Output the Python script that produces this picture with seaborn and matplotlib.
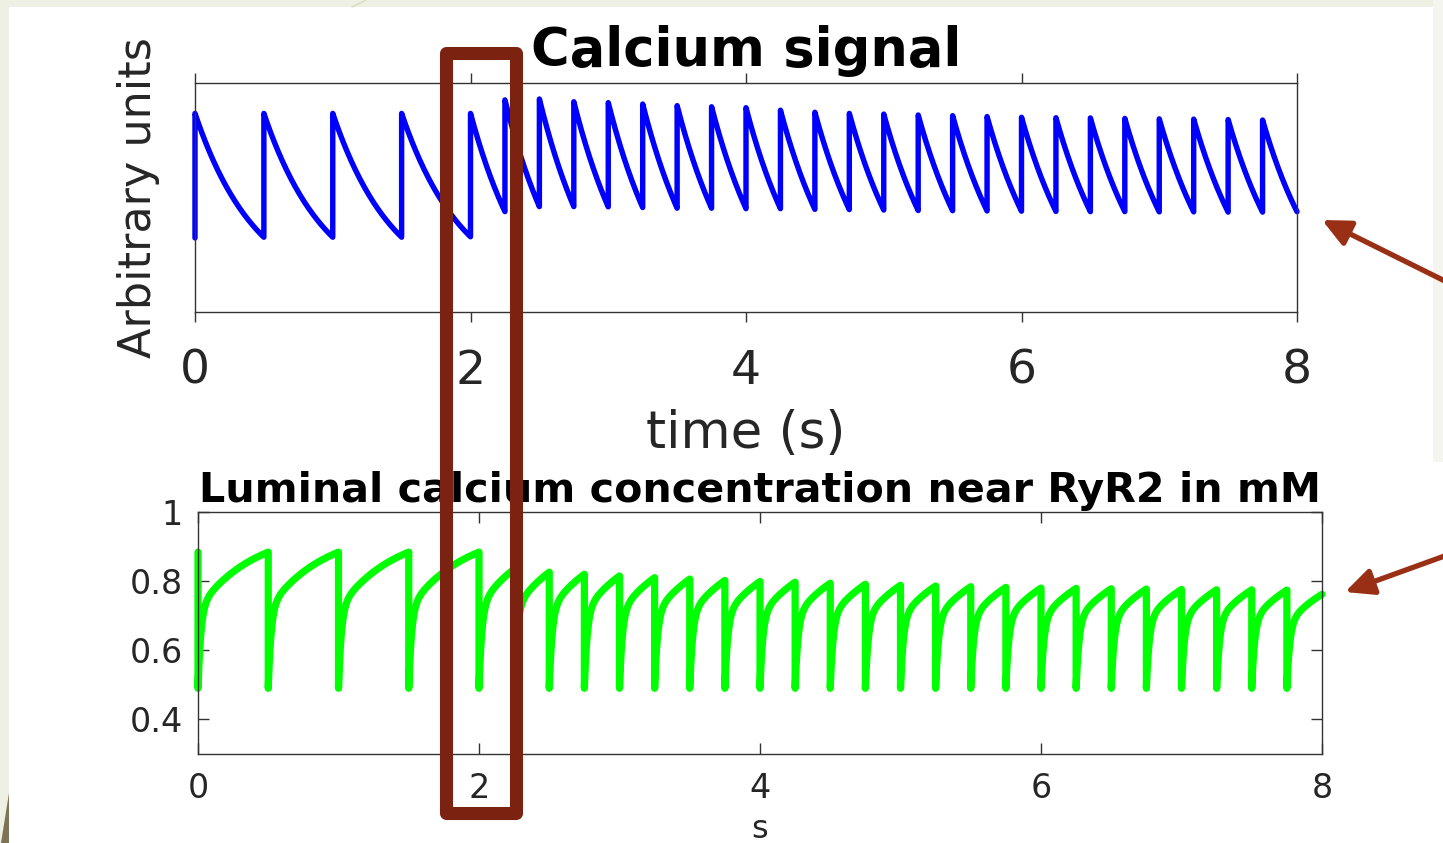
import numpy as np
import pandas as pd
import matplotlib
matplotlib.use("Agg")
import matplotlib.pyplot as plt
import seaborn as sns
from matplotlib.patches import Rectangle, FancyArrowPatch, Polygon, ArrowStyle
from matplotlib.lines import Line2D

# ---------------------------------------------------------------- data
# stimulation times (s): 2 Hz pacing, then 4 Hz from 2.25 s on
beat_times = [0.0, 0.5, 1.0, 1.5, 2.0, 2.25, 2.5, 2.75, 3.0, 3.25, 3.5, 3.75,
              4.0, 4.25, 4.5, 4.75, 5.0, 5.25, 5.5, 5.75, 6.0, 6.25, 6.5,
              6.75, 7.0, 7.25, 7.5, 7.75]
t_end = 8.0

# cytosolic calcium (arbitrary units): level before the first beat,
# peak of each transient and the level reached at the end of each interval
ca_start = 0.322
ca_peak = [0.867, 0.867, 0.867, 0.867, 0.867, 0.926, 0.930, 0.918, 0.914,
           0.908, 0.901, 0.896, 0.892, 0.881, 0.872, 0.867, 0.864, 0.860,
           0.857, 0.853, 0.850, 0.848, 0.847, 0.845, 0.843, 0.842, 0.840,
           0.838]
ca_trough = [0.325, 0.325, 0.325, 0.327, 0.437, 0.459, 0.459, 0.458, 0.455,
             0.452, 0.452, 0.450, 0.450, 0.447, 0.446, 0.444, 0.442, 0.441,
             0.440, 0.439, 0.438, 0.437, 0.437, 0.436, 0.436, 0.435, 0.435,
             0.437]
ca_tau = 0.45  # decay time constant (s)

# luminal calcium near RyR2 (mM): level just before each release,
# depleted level after release, and level at the end of the record
lum_before = [0.884, 0.884, 0.884, 0.884, 0.884, 0.835, 0.826, 0.820, 0.815,
              0.810, 0.806, 0.802, 0.799, 0.797, 0.794, 0.791, 0.788, 0.786,
              0.784, 0.782, 0.780, 0.779, 0.778, 0.777, 0.776, 0.775, 0.775,
              0.774]
lum_min = 0.49
lum_final = 0.762
lum_fast_frac, lum_tau_fast, lum_tau_slow = 0.5, 0.02, 0.4

top_xticks = [0, 2, 4, 6, 8]
bot_xticks = [0, 2, 4, 6, 8]
bot_yticks = [0.4, 0.6, 0.8, 1.0]
bot_yticklabels = ["0.4", "0.6", "0.8", "1"]


def calcium_trace(times, peaks, troughs, start, stop, tau):
    bounds = list(times[1:]) + [stop]
    tt, vv = [], []
    prev = start
    for t0, t1, pk, tr in zip(times, bounds, peaks, troughs):
        span = t1 - t0
        dt = np.linspace(0.0, span, 80)
        shape = (np.exp(-dt / tau) - np.exp(-span / tau)) / (1 - np.exp(-span / tau))
        tt += [t0] + list(t0 + dt)
        vv += [prev] + list(tr + (pk - tr) * shape)
        prev = tr
    return pd.DataFrame({"time": tt, "signal": vv})


def luminal_trace(times, before, vmin, final, stop, a, tf, ts):
    bounds = list(times[1:]) + [stop]
    targets = list(before[1:]) + [final]

    def recovery(dt):
        return 1 - a * np.exp(-dt / tf) - (1 - a) * np.exp(-dt / ts)

    tt, vv = [], []
    for t0, t1, lvl, tgt in zip(times, bounds, before, targets):
        span = t1 - t0
        dt = span * np.linspace(0.0, 1.0, 160) ** 2
        tt += [t0] + list(t0 + dt)
        vv += [lvl] + list(vmin + (tgt - vmin) * recovery(dt) / recovery(span))
    return pd.DataFrame({"time": tt, "conc": vv})


ca_df = calcium_trace(beat_times, ca_peak, ca_trough, ca_start, t_end, ca_tau)
lum_df = luminal_trace(beat_times, lum_before, lum_min, lum_final, t_end,
                       lum_fast_frac, lum_tau_fast, lum_tau_slow)

# ---------------------------------------------------------------- figure
sns.set_style("ticks")
plt.rcParams["font.family"] = ["DejaVu Sans"]

W, H = 1443, 843
fig = plt.figure(figsize=(W / 100, H / 100), dpi=100)
fig.patch.set_facecolor("#EDF0E2")


def fx(x):
    return x / W


def fy(y):
    return 1 - y / H


# slide background: white panel with a pale strip on the left/top
fig.add_artist(Rectangle((fx(9), fy(462)), fx(1433) - fx(9), fy(7) - fy(462),
                         transform=fig.transFigure, fc="white", ec="none", zorder=-10))
fig.add_artist(Rectangle((fx(9), fy(843)), fx(1443) - fx(9), fy(462) - fy(843),
                         transform=fig.transFigure, fc="white", ec="none", zorder=-10))
fig.add_artist(Rectangle((fx(1433), fy(462)), fx(1443) - fx(1433), fy(0) - fy(462),
                         transform=fig.transFigure, fc="#F4F5EE", ec="none", zorder=-10))
fig.add_artist(Polygon([(fx(8.6), fy(793)), (fx(8.6), fy(843)), (fx(0.5), fy(843))],
                       closed=True, transform=fig.transFigure, fc="#7E7455",
                       ec="none", zorder=-9))
fig.add_artist(Line2D([fx(352), fx(366)], [fy(7), fy(0)], transform=fig.transFigure,
                      color="#D6DAC6", lw=1, zorder=-9))

spine_color = "#333333"
tick_color = "#262626"

# ---------------------------------------------------------------- top panel
ax1 = fig.add_axes([fx(195), fy(311.5), fx(1297) - fx(195), fy(83) - fy(311.5)])
sns.lineplot(data=ca_df, x="time", y="signal", estimator=None, sort=False,
             color="#0000FF", linewidth=3.9, ax=ax1, clip_on=False)
ax1.set_xlim(0, 8)
ax1.set_ylim(0, 1)
ax1.set_xticks(top_xticks)
ax1.set_xticklabels([str(v) for v in top_xticks])
ax1.set_yticks([])
ax1.tick_params(axis="x", direction="out", length=7, width=1.0, top=True,
                bottom=True, labelsize=34, pad=20, color=spine_color,
                labelcolor=tick_color)
for s in ax1.spines.values():
    s.set_visible(True)
    s.set_color(spine_color)
    s.set_linewidth(1.0)
ax1.set_xlabel("time (s)", fontsize=37, color=tick_color, labelpad=11)
ax1.set_ylabel("Arbitrary units", fontsize=32, color=tick_color)
ax1.yaxis.set_label_coords(-0.032, 0.5)
ax1.set_title("Calcium signal", fontsize=38, fontweight="bold", color="black",
              pad=12)

# ---------------------------------------------------------------- bottom panel
ax2 = fig.add_axes([fx(198), fy(754), fx(1322) - fx(198), fy(512) - fy(754)])
sns.lineplot(data=lum_df, x="time", y="conc", estimator=None, sort=False,
             color="#00FF00", linewidth=5.2, ax=ax2, clip_on=False)
ax2.set_xlim(0, 8)
ax2.set_ylim(0.3, 1.0)
ax2.set_xticks(bot_xticks)
ax2.set_xticklabels([str(v) for v in bot_xticks])
ax2.set_yticks(bot_yticks)
ax2.set_yticklabels(bot_yticklabels)
ax2.tick_params(axis="both", direction="in", length=8, width=1.0, top=True,
                right=True, labelsize=24, color=spine_color, labelcolor=tick_color)
ax2.tick_params(axis="x", pad=13)
ax2.tick_params(axis="y", pad=11)
for s in ax2.spines.values():
    s.set_visible(True)
    s.set_color(spine_color)
    s.set_linewidth(1.0)
ax2.set_xlabel("s", fontsize=23, color=tick_color)
ax2.xaxis.set_label_coords(0.5, -0.25)
ax2.set_ylabel("")
ax2.set_title("Luminal calcium concentration near RyR2 in mM", fontsize=29.7,
              fontweight="bold", color="black", pad=7)

# ---------------------------------------------------------------- annotations
fig.add_artist(Rectangle((fx(445.5), fy(812.5)), fx(515.5) - fx(445.5),
                         fy(53) - fy(812.5), transform=fig.transFigure,
                         fill=False, ec="#7B2210", lw=9.4, joinstyle="round",
                         zorder=5))

arrow_color = "#992F14"
for tail, tip in [((1475, 296), (1322, 220)), ((1475, 545), (1345, 592))]:
    fig.add_artist(FancyArrowPatch(
        (fx(tail[0]), fy(tail[1])), (fx(tip[0]), fy(tip[1])),
        transform=fig.transFigure,
        arrowstyle=ArrowStyle("-|>", head_length=17, head_width=8),
        mutation_scale=1, shrinkA=0, shrinkB=0, lw=3.8,
        color=arrow_color, zorder=5))

fig.savefig("out.png", dpi=100, facecolor=fig.get_facecolor())
